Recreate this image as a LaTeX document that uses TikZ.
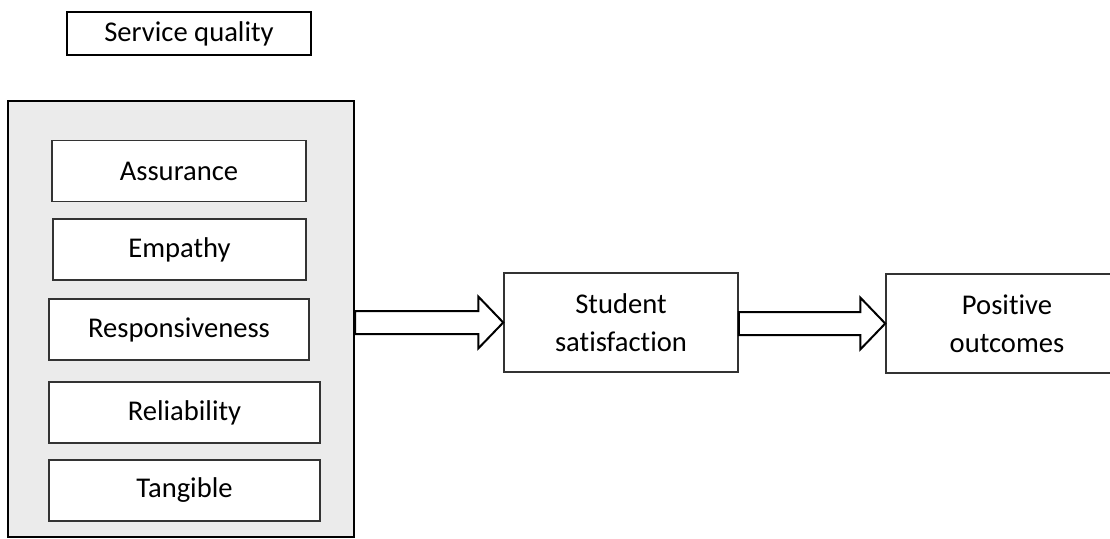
\documentclass[tikz,border=0pt]{standalone}
\usepackage{fontspec}
\setmainfont{Carlito}[Ligatures=NoCommon]
\usepackage{xcolor}
\usepackage{tikz}
\usetikzlibrary{positioning,calc}
\definecolor{panelgray}{RGB}{235,235,235}

\begin{document}
\begin{tikzpicture}[
    x=0.5pt, y=-0.5pt, font=\fontsize{14.3}{19}\selectfont,
    title/.style={draw, line width=1pt, minimum width=122pt,
      minimum height=21.5pt, inner sep=0pt},
    panel/.style={draw, line width=1pt, fill=panelgray,
      minimum width=173pt, minimum height=218pt, inner sep=0pt},
    dimbox/.style={draw=black!80, line width=0.75pt, fill=white,
      minimum height=30.5pt, inner sep=0pt, align=center},
    outbox/.style={draw=black!80, line width=0.75pt, fill=white,
      minimum height=49.5pt, inner sep=0pt, align=center},
    blockarr/.style={draw, line width=1pt, fill=white, line join=miter}
]
\useasboundingbox (0,0) rectangle (1110,538);
\node[title] (sq) at (189,33.5) {Service quality};
\node[panel] (pn) at (181,319) {};
\node[dimbox, minimum width=127pt]   (as) at (179,171)   {Assurance};
\node[dimbox, minimum width=126.5pt] (em) at (179.5,249.5) {Empathy};
\node[dimbox, minimum width=130pt]   (re) at (179,329.5) {Responsiveness};
\node[dimbox, minimum width=135.5pt] (rl) at (184.5,412.5) {Reliability};
\node[dimbox, minimum width=135.5pt] (tg) at (184.5,490.5) {Tangible};
\node[outbox, minimum width=117pt] (ss) at (621,322.5) {Student\\satisfaction};
\node[outbox, minimum width=121pt] (po) at (1007,323.5) {Positive\\outcomes};
% block arrows between the boxes
\draw[blockarr] let \p1=(pn.east), \p2=(ss.west) in
  (\x1,\y2+5.75pt) -- (\x2-12.5pt,\y2+5.75pt) -- (\x2-12.5pt,\y2+13pt)
  -- (\x2,\y2) -- (\x2-12.5pt,\y2-13pt) -- (\x2-12.5pt,\y2-5.75pt)
  -- (\x1,\y2-5.75pt) -- cycle;
\draw[blockarr] let \p1=(ss.east), \p2=(po.west) in
  (\x1,\y2+5.75pt) -- (\x2-12.5pt,\y2+5.75pt) -- (\x2-12.5pt,\y2+13pt)
  -- (\x2,\y2) -- (\x2-12.5pt,\y2-13pt) -- (\x2-12.5pt,\y2-5.75pt)
  -- (\x1,\y2-5.75pt) -- cycle;
\end{tikzpicture}
\end{document}
